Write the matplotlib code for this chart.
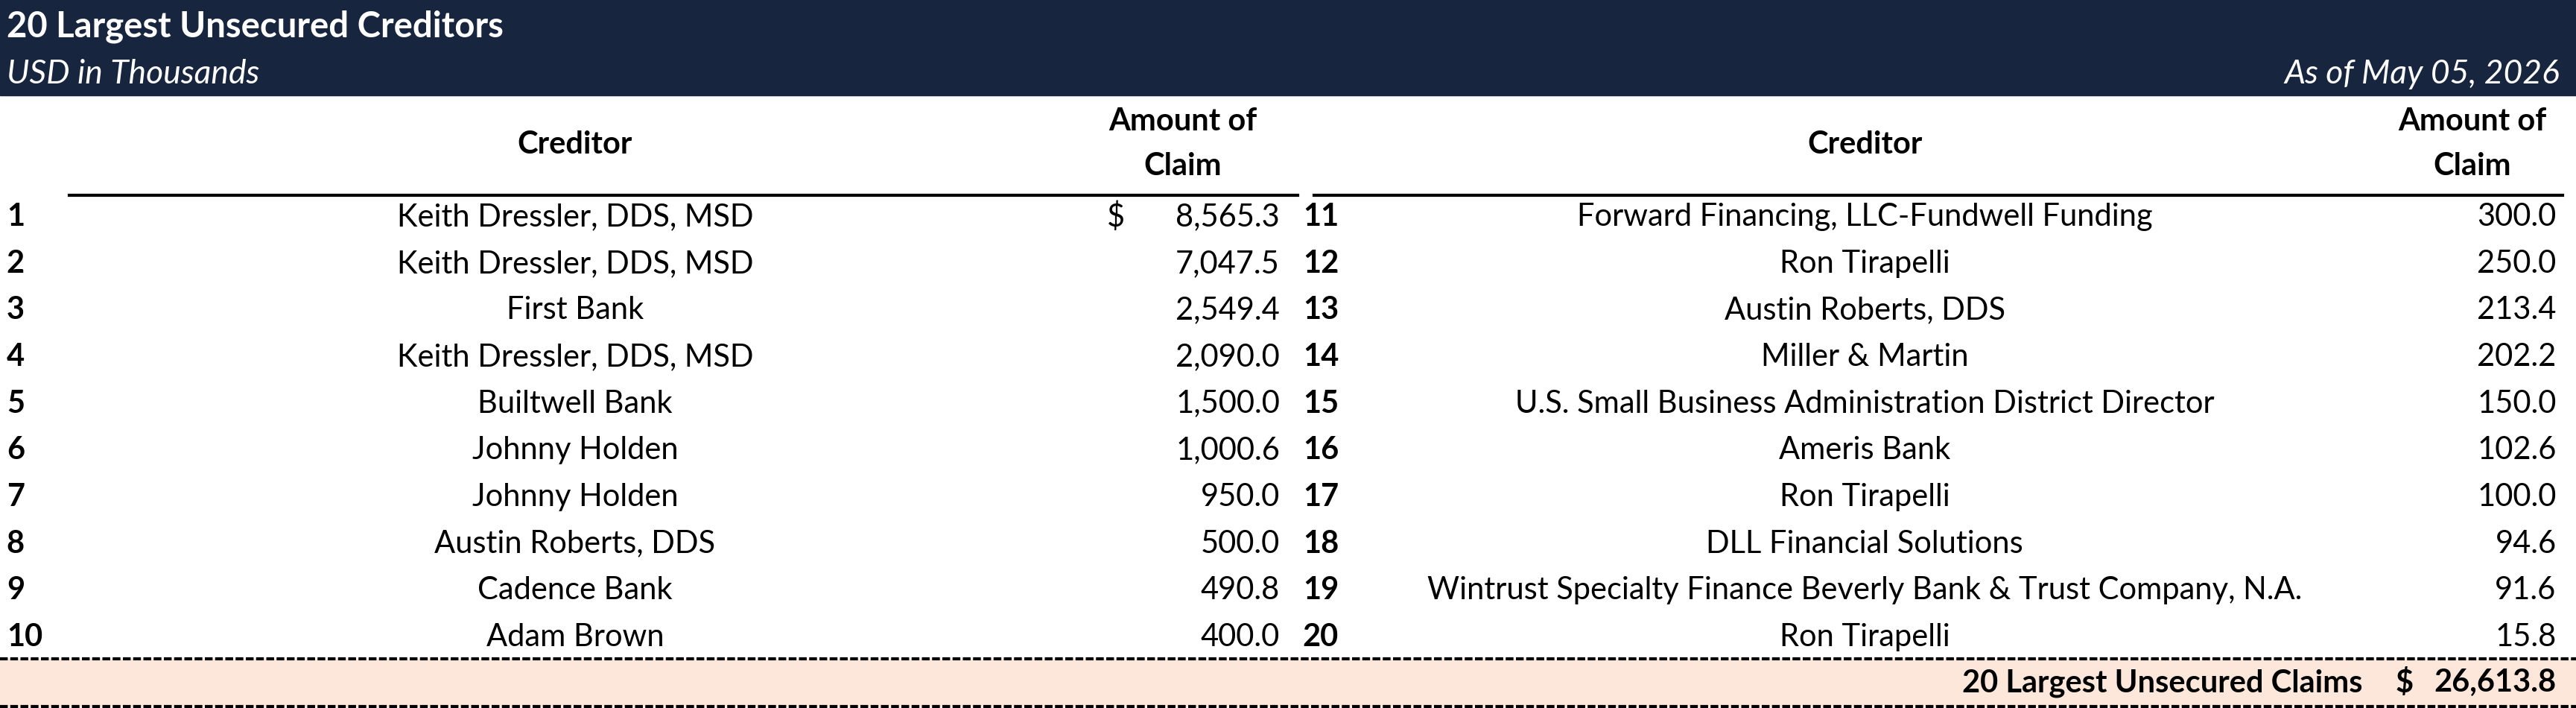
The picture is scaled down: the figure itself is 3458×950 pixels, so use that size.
import matplotlib
matplotlib.use("Agg")
import matplotlib.pyplot as plt
from matplotlib.patches import Rectangle

left_nums = list(range(1, 11))
left_names = ["Keith Dressler, DDS, MSD", "Keith Dressler, DDS, MSD", "First Bank",
              "Keith Dressler, DDS, MSD", "Builtwell Bank", "Johnny Holden", "Johnny Holden",
              "Austin Roberts, DDS", "Cadence Bank", "Adam Brown"]
left_vals = [8565.3, 7047.5, 2549.4, 2090.0, 1500.0, 1000.6, 950.0, 500.0, 490.8, 400.0]
right_nums = list(range(11, 21))
right_names = ["Forward Financing, LLC-Fundwell Funding", "Ron Tirapelli", "Austin Roberts, DDS",
               "Miller & Martin", "U.S. Small Business Administration District Director",
               "Ameris Bank", "Ron Tirapelli", "DLL Financial Solutions",
               "Wintrust Specialty Finance Beverly Bank & Trust Company, N.A.", "Ron Tirapelli"]
right_vals = [300.0, 250.0, 213.4, 202.2, 150.0, 102.6, 100.0, 94.6, 91.6, 15.8]
total_label = "20 Largest Unsecured Claims"
total_val = 26613.8

FONT = "Lato"
S = 3458 / 1568.0
fig = plt.figure(figsize=(34.58, 9.5), dpi=100)
ax = fig.add_axes([0, 0, 1, 1])
ax.set_xlim(0, 3458); ax.set_ylim(950, 0); ax.axis("off")

def X(v): return v * S
fs = 30
navy = "#17253F"
ax.add_patch(Rectangle((0, 0), 3458, X(58), color=navy, zorder=0))
ax.text(X(4), X(16), "20 Largest Unsecured Creditors", color="white", fontsize=34,
        fontweight="bold", family=FONT, va="center")
ax.text(X(4), X(45), "USD in Thousands", color="white", fontsize=32, style="italic",
        family=FONT, va="center")
ax.text(X(1558), X(45), "As of May 05, 2026", color="white", fontsize=32, style="italic",
        family=FONT, va="center", ha="right")

def table(xnum, xname, xval_r, xdollar, xline0, xline1, xhdr_amt, nums, names, vals):
    ax.text(X(xname), X(88), "Creditor", fontsize=fs, fontweight="bold", family=FONT, ha="center", va="center")
    ax.text(X(xhdr_amt), X(74), "Amount of", fontsize=fs, fontweight="bold", family=FONT, ha="center", va="center")
    ax.text(X(xhdr_amt), X(101), "Claim", fontsize=fs, fontweight="bold", family=FONT, ha="center", va="center")
    ax.plot([X(xline0), X(xline1)], [X(119)] * 2, color="black", lw=3)
    for i, (n, nm, v) in enumerate(zip(nums, names, vals)):
        y = X(132 + i * 28.4)
        ax.text(X(xnum), y, str(n), fontsize=fs, fontweight="bold", family=FONT, va="center")
        ax.text(X(xname), y, nm, fontsize=fs, family=FONT, ha="center", va="center")
        ax.text(X(xval_r), y, f"{v:,.1f}", fontsize=fs, family=FONT, ha="right", va="center")
        if i == 0 and xdollar is not None:
            ax.text(X(xdollar), y, "$", fontsize=fs, family=FONT, va="center")

table(4, 350, 779, 674, 42, 790, 720, left_nums, left_names, left_vals)
table(793, 1135, 1556, None, 800, 1560, 1505, right_nums, right_names, right_vals)

ax.add_patch(Rectangle((0, X(401)), 3458, X(29), color="#FCE7DA", zorder=0))
for yy in (401, 430):
    ax.plot([0, 3458], [X(yy)] * 2, color="black", lw=3, ls=(0, (2.5, 0.8)))
ty = X(415.5)
ax.text(X(1438), ty, total_label, fontsize=fs, fontweight="bold", family=FONT, ha="right", va="center")
ax.text(X(1458), ty, "$", fontsize=fs, fontweight="bold", family=FONT, va="center")
ax.text(X(1556), ty, f"{total_val:,.1f}", fontsize=fs, fontweight="bold", family=FONT, ha="right", va="center")

fig.savefig("out.png", dpi=100)
